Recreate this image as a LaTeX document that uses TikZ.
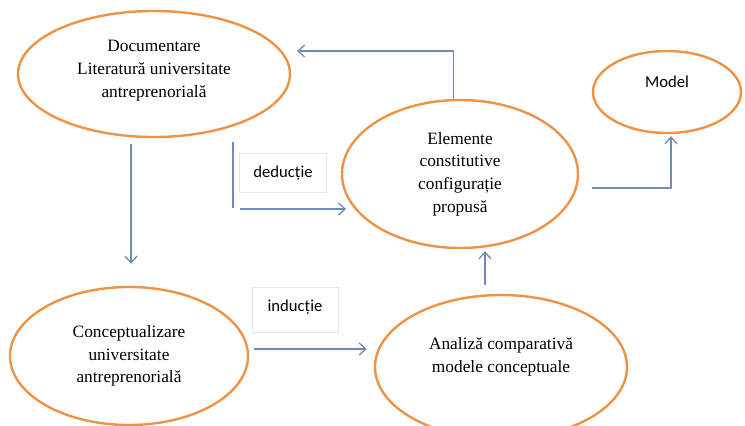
\documentclass[tikz,border=0pt]{standalone}
\usepackage{fontspec}
\setmainfont{Liberation Serif}
\setsansfont{Carlito}
\usetikzlibrary{shapes.geometric, arrows.meta}
\definecolor{ellorange}{RGB}{238,146,70}
\definecolor{arrblue}{RGB}{112,140,182}
\definecolor{boxgray}{RGB}{230,230,230}

\begin{document}
\begin{tikzpicture}[x=0.75pt, y=-0.75pt, font=\fontsize{13}{17}\selectfont,
		oval/.style={ellipse, draw=ellorange, line width=1.8pt, inner sep=0pt, align=center},
		link/.style={draw=arrblue, line width=1pt},
		arr/.style={link, -{Straight Barb[length=5pt,width=9pt]}},
		tag/.style={draw=boxgray, line width=0.5pt, inner sep=0pt, font=\sffamily\fontsize{12.5}{15}\selectfont}]
		\useasboundingbox (0,0) rectangle (745,425);
		\node[oval, minimum width=204pt, minimum height=94.5pt, text depth=8pt] (doc) at (154,74) {Documentare\\Literatură universitate\\antreprenorială};
		\node[oval, minimum width=177pt, minimum height=111pt] (elem) at (460,174) {Elemente\\constitutive\\configurație\\propusă};
		\node[oval, minimum width=111pt, minimum height=61.5pt, text depth=15pt, font=\sffamily\fontsize{12.5}{15}\selectfont] (model) at (667,92) {Model};
		\node[oval, minimum width=178.5pt, minimum height=103.5pt] (conc) at (129,356) {Conceptualizare\\universitate\\antreprenorială};
		\node[oval, minimum width=189pt, minimum height=108pt, text depth=18pt] (anal) at (501,367) {Analiză comparativă\\modele conceptuale};
		\node[tag, minimum width=65pt, minimum height=29pt] (ded) at (283,173) {deducție};
		\node[tag, minimum width=64.5pt, minimum height=34pt, text depth=6pt] (ind) at (295,310) {inducție};
		\coordinate (ret) at (297,51);
		\coordinate (dtop) at (233,142);
		\coordinate (dbot) at (233,208);
		\coordinate (dgo) at (240,209);
		\draw[arr] ([xshift=-5pt]elem.north) |- (ret);
		\draw[arr] ([shift={(-23,6)}]doc.south) -- ([shift={(2,-22)}]conc.north);
		\draw[link] (dtop) -- (dbot);
		\draw[arr] (dgo) -- ([xshift=4pt]dgo -| elem.west);
		\draw[arr] ([shift={(13,14)}]elem.east) -| ([shift={(4,2)}]model.south);
		\draw[arr] ([shift={(-16,-9)}]anal.north) -- ([shift={(25,2)}]elem.south);
		\draw[arr] ([shift={(5,-7)}]conc.east) -- ([shift={(-7,-18)}]anal.west);
	\end{tikzpicture}
\end{document}
